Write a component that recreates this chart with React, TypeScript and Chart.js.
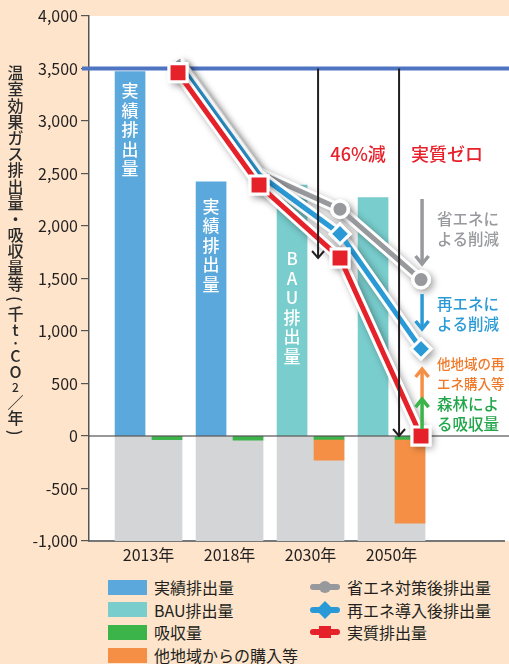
import React, { useEffect, useRef } from 'react';
import { Chart, registerables } from 'chart.js';

Chart.register(...registerables);

// ---------- data ----------
const categories = ['2013年', '2018年', '2030年', '2050年'];
const actualEmissions: (number | null)[] = [3470, 2420, null, null]; // 実績排出量
const bauEmissions: (number | null)[] = [null, null, 2390, 2270]; // BAU排出量
const absorption = [35, 40, 40, 40]; // 吸収量 (plotted negative)
const purchases = [0, 0, 190, 790]; // 他地域からの購入等 (plotted negative)
const energySavingLine = [3460, 2390, 2160, 1490]; // 省エネ対策後排出量
const renewableLine = [3460, 2390, 1925, 830]; // 再エネ導入後排出量
const netEmissionLine = [3460, 2390, 1695, 0]; // 実質排出量
const yMin = -1000;
const yMax = 4000;
const yStep = 500;
const baselineValue = 3500;
const yTitle = '温室効果ガス排出量・吸収量等（千t·CO2／年）';

// ---------- style / layout constants ----------
const FONT = '"Noto Sans CJK JP", "Noto Sans", sans-serif';
const INK = '#231f20';
const PEACH = '#fde4ca';
const COL = {
  actual: '#5ba8dc',
  bau: '#79cdcd',
  absorb: '#3bb44a',
  purchase: '#f58f45',
  under: '#d4d5d7',
  saving: '#98999d',
  renew: '#2a9ad6',
  net: '#e52229',
  baseline: '#4e74c2',
};
const CANVAS_W = 520;
const CANVAS_H = 566;
const X_MIN = -0.735;
const CATEGORY_PX = 81; // width of one category on the x axis
const PAIR_OFFSET = 0.228; // left/right bar offset within a category
const LINE_OFFSET = 0.364; // x offset of line points within a category
const ARROW_OFFSET = 0.093; // black arrow offset
// visual separation of the overlapping lines for 2013/2018 (hidden points)
const SAVING_OVERLAP_SHIFT = 120;
const RENEW_OVERLAP_SHIFT = 100;

const barTexts = [
  { text: '実績排出量', i: 0, start: 3286 },
  { text: '実績排出量', i: 1, start: 2190 },
  { text: 'BAU排出量', i: 2, start: 1686 },
];

const sideNotes = [
  { lines: ['省エネに', 'よる削減'], color: COL.saving, y: [2067, 1876], size: 15.5, weight: 500 },
  { lines: ['再エネに', 'よる削減'], color: COL.renew, y: [1257, 1067], size: 15.5, weight: 500 },
  { lines: ['他地域の再', 'エネ購入等'], color: '#f07a2a', y: [686, 495], size: 13.5, weight: 500 },
  { lines: ['森林によ', 'る吸収量'], color: '#22a64a', y: [305, 114], size: 15.5, weight: 500 },
];
const sideArrows = [
  { from: 2257, to: 1638, color: COL.saving },
  { from: 1352, to: 1019, color: COL.renew },
  { from: 352, to: 638, color: '#f58f45' },
  { from: 67, to: 352, color: '#3bb44a' },
];
const SIDE_ARROW_X = 3.377;
const SIDE_TEXT_X = 3.562;

function drawArrow(ctx: any, x: number, y1: number, y2: number, color: string, lw: number, hw: number, hh: number) {
  const dir = y2 > y1 ? 1 : -1;
  ctx.save();
  ctx.strokeStyle = color;
  ctx.lineWidth = lw;
  ctx.lineCap = 'butt';
  ctx.lineJoin = 'miter';
  ctx.beginPath();
  ctx.moveTo(x, y1);
  ctx.lineTo(x, y2 - dir * lw * 0.5);
  ctx.stroke();
  ctx.beginPath();
  ctx.moveTo(x - hw, y2 - dir * hh);
  ctx.lineTo(x, y2);
  ctx.lineTo(x + hw, y2 - dir * hh);
  ctx.stroke();
  ctx.restore();
}

// vertical (tategaki) axis title, drawn glyph by glyph
function drawVerticalTitle(ctx: any) {
  const x = 15.5;
  let y = 65;
  ctx.save();
  ctx.fillStyle = '#2b2b2b';
  ctx.textAlign = 'center';
  ctx.textBaseline = 'middle';
  Array.from(yTitle).forEach((ch) => {
    let adv = 16.2;
    let size = 16;
    let rotate = false;
    if (ch === '（' || ch === '）') { adv = 14; rotate = true; }
    else if (ch === '·') { adv = 11; }
    else if (ch === 't') { adv = 15; }
    else if (ch === '2') { adv = 14; size = 12; }
    else if (ch === '／') { adv = 15; }
    const cy = y + adv / 2;
    ctx.font = `500 ${size}px ${FONT}`;
    if (rotate) {
      ctx.save();
      ctx.translate(x, cy);
      ctx.rotate(Math.PI / 2);
      ctx.fillText(ch === '（' ? '(' : ')', 0, 0);
      ctx.restore();
    } else {
      ctx.fillText(ch, x, cy);
    }
    y += adv;
  });
  ctx.restore();
}

const decorPlugin = {
  id: 'decor',
  afterLayout(chart: any) {
    // keep a fixed category width in pixels, whatever the final plot width is
    const s = chart.scales.x;
    s.min = X_MIN;
    s.max = X_MIN + (s.right - s.left) / CATEGORY_PX;
    s.configure();
  },
  beforeDraw(chart: any) {
    const { ctx, chartArea } = chart;
    ctx.save();
    ctx.fillStyle = '#ffffff';
    ctx.fillRect(chartArea.left, chartArea.top, chart.width - chartArea.left, chartArea.bottom - chartArea.top);
    ctx.restore();
    drawVerticalTitle(ctx);
  },
  beforeDatasetDraw(chart: any, args: any) {
    const ds = chart.data.datasets[args.index];
    if (ds.shadow) {
      const ctx = chart.ctx;
      ctx.save();
      ctx.shadowColor = 'rgba(0,0,0,0.35)';
      ctx.shadowBlur = 7;
      ctx.shadowOffsetX = 3;
      ctx.shadowOffsetY = 3;
    }
  },
  afterDatasetDraw(chart: any, args: any) {
    const ds = chart.data.datasets[args.index];
    const { ctx, chartArea, scales } = chart;
    if (ds.shadow) ctx.restore();
    if (ds.guidesAfter) {
      const xs = scales.x;
      const ys = scales.y;
      ctx.save();
      ctx.strokeStyle = '#333';
      ctx.lineWidth = 1.2;
      const y0 = ys.getPixelForValue(0);
      ctx.beginPath();
      ctx.moveTo(chartArea.left, y0);
      ctx.lineTo(chart.width, y0);
      ctx.stroke();
      const yb = ys.getPixelForValue(baselineValue);
      ctx.strokeStyle = COL.baseline;
      ctx.lineWidth = 4;
      ctx.beginPath();
      ctx.moveTo(chartArea.left - 7, yb);
      ctx.lineTo(chart.width, yb);
      ctx.stroke();
      ctx.fillStyle = '#ffffff';
      ctx.font = `500 17px ${FONT}`;
      ctx.textAlign = 'center';
      ctx.textBaseline = 'middle';
      barTexts.forEach((b) => {
        const x = xs.getPixelForValue(b.i - PAIR_OFFSET);
        const yS = ys.getPixelForValue(b.start);
        Array.from(b.text).forEach((ch, k) => {
          ctx.fillText(ch, x, yS + k * 19.5);
        });
      });
      ctx.restore();
    }
  },
  afterDatasetsDraw(chart: any) {
    const { ctx, scales } = chart;
    const xs = scales.x;
    const ys = scales.y;
    const yb = ys.getPixelForValue(baselineValue);
    [2, 3].forEach((i) => {
      const x = xs.getPixelForValue(i + ARROW_OFFSET);
      drawArrow(ctx, x, yb, ys.getPixelForValue(netEmissionLine[i]), INK, 2, 6, 7);
    });
    ctx.save();
    ctx.fillStyle = '#e8202a';
    ctx.font = `500 18px ${FONT}`;
    ctx.textAlign = 'center';
    ctx.textBaseline = 'middle';
    const yt = ys.getPixelForValue(2686);
    ctx.fillText('46%減', xs.getPixelForValue(2.587), yt);
    ctx.fillText('実質ゼロ', xs.getPixelForValue(3.685), yt);
    ctx.restore();
    const ax = xs.getPixelForValue(SIDE_ARROW_X);
    sideArrows.forEach((a) => {
      drawArrow(ctx, ax, ys.getPixelForValue(a.from), ys.getPixelForValue(a.to), a.color, 3.5, 6.5, 8);
    });
    ctx.save();
    ctx.textAlign = 'left';
    ctx.textBaseline = 'middle';
    const tx = xs.getPixelForValue(SIDE_TEXT_X);
    sideNotes.forEach((n) => {
      ctx.fillStyle = n.color;
      ctx.font = `${n.weight} ${n.size}px ${FONT}`;
      n.lines.forEach((l, k) => ctx.fillText(l, tx, ys.getPixelForValue(n.y[k])));
    });
    ctx.restore();
  },
};

function lineSets(label: string, values: number[], color: string, style: string, r: number, bw: number, outerR: number, order: number, shift: number) {
  const hidden = (i: number) => shift !== 0 && i < 2;
  const data = values.map((v, i) => ({ x: i + LINE_OFFSET, y: hidden(i) ? v + shift : v }));
  const outline = {
    type: 'line',
    label: label + '-outline',
    data,
    borderColor: '#ffffff',
    borderWidth: 11,
    backgroundColor: '#ffffff',
    pointStyle: style,
    pointRadius: values.map((_, i) => (hidden(i) ? 0 : outerR)),
    pointBorderWidth: 0,
    pointBackgroundColor: '#ffffff',
    tension: 0,
    order: order + 1,
    shadow: true,
    clip: 20,
  };
  const main = {
    type: 'line',
    label,
    data,
    borderColor: color,
    borderWidth: 5,
    backgroundColor: color,
    pointStyle: style,
    pointRadius: values.map((_, i) => (hidden(i) ? 0 : r)),
    pointBorderWidth: bw,
    pointBorderColor: '#ffffff',
    pointBackgroundColor: color,
    tension: 0,
    order,
    clip: 20,
  };
  return [outline, main];
}

function Legend() {
  const left = [
    { label: '実績排出量', color: COL.actual },
    { label: 'BAU排出量', color: COL.bau },
    { label: '吸収量', color: COL.absorb },
    { label: '他地域からの購入等', color: COL.purchase },
  ];
  const right = [
    { label: '省エネ対策後排出量', color: COL.saving, shape: 'circle' },
    { label: '再エネ導入後排出量', color: COL.renew, shape: 'diamond' },
    { label: '実質排出量', color: COL.net, shape: 'square' },
  ];
  const rowTop = (k: number) => 576 + k * 22.7;
  const textStyle: any = { position: 'absolute', fontSize: 16, lineHeight: '22px', color: INK, whiteSpace: 'nowrap', fontFamily: FONT };
  return (
    <>
      {left.map((it, k) => (
        <React.Fragment key={'l' + k}>
          <div style={{ position: 'absolute', left: 108, top: rowTop(k) + 3.5, width: 39, height: 15, background: it.color }} />
          <div style={{ ...textStyle, left: 154, top: rowTop(k) }}>{it.label}</div>
        </React.Fragment>
      ))}
      {right.map((it, k) => (
        <React.Fragment key={'r' + k}>
          <svg style={{ position: 'absolute', left: 308, top: rowTop(k) + 1 }} width={34} height={20}>
            <line x1={5} y1={10} x2={29} y2={10} stroke={it.color} strokeWidth={6} strokeLinecap="round" />
            {it.shape === 'circle' && <circle cx={17} cy={10} r={6} fill={it.color} />}
            {it.shape === 'diamond' && <polygon points="17,1 26,10 17,19 8,10" fill={it.color} />}
            {it.shape === 'square' && <rect x={11} y={4} width={12} height={12} fill={it.color} />}
          </svg>
          <div style={{ ...textStyle, left: 347, top: rowTop(k) }}>{it.label}</div>
        </React.Fragment>
      ))}
    </>
  );
}

export default function App() {
  const ref = useRef<HTMLCanvasElement | null>(null);
  useEffect(() => {
    if (!ref.current) return;
    Chart.defaults.font.family = FONT;
    const barBase = { type: 'bar', grouped: false, borderWidth: 0 };
    const datasets: any[] = [
      {
        ...barBase,
        label: 'under',
        data: categories.map((_, i) => ({ x: i, y: [0, yMin] })),
        backgroundColor: COL.under,
        barThickness: 67,
        order: 20,
      },
      {
        ...barBase,
        label: '実績排出量',
        data: actualEmissions.map((v, i) => (v == null ? null : { x: i - PAIR_OFFSET, y: v })).filter(Boolean),
        backgroundColor: COL.actual,
        barThickness: 30,
        order: 19,
      },
      {
        ...barBase,
        label: 'BAU排出量',
        data: bauEmissions.map((v, i) => (v == null ? null : { x: i - PAIR_OFFSET, y: v })).filter(Boolean),
        backgroundColor: COL.bau,
        barThickness: 30,
        order: 18,
      },
      {
        ...barBase,
        label: '吸収量',
        data: absorption.map((v, i) => ({ x: i + PAIR_OFFSET, y: [0, -v] })),
        backgroundColor: COL.absorb,
        barThickness: 30,
        order: 17,
      },
      {
        ...barBase,
        label: '他地域からの購入等',
        data: purchases
          .map((v, i) => (v > 0 ? { x: i + PAIR_OFFSET, y: [-absorption[i], -absorption[i] - v] } : null))
          .filter(Boolean),
        backgroundColor: COL.purchase,
        barThickness: 30,
        order: 16,
        guidesAfter: true,
      },
      ...lineSets('省エネ対策後排出量', energySavingLine, COL.saving, 'circle', 8.25, 3.5, 10, 8, SAVING_OVERLAP_SHIFT),
      ...lineSets('再エネ導入後排出量', renewableLine, COL.renew, 'rectRot', 10, 3, 12.2, 5, RENEW_OVERLAP_SHIFT),
      ...lineSets('実質排出量', netEmissionLine, COL.net, 'rect', 12.7, 3, 14.8, 2, 0),
    ];
    const chart = new Chart(ref.current, {
      type: 'bar',
      data: { datasets },
      plugins: [decorPlugin],
      options: {
        responsive: false,
        maintainAspectRatio: false,
        animation: false,
        events: [],
        layout: { padding: { top: 16, left: 0, right: 0, bottom: 0 } },
        plugins: { legend: { display: false }, tooltip: { enabled: false } },
        scales: {
          x: {
            type: 'linear',
            min: X_MIN,
            max: X_MIN + 5,
            offset: false,
            afterBuildTicks: (s: any) => {
              s.ticks = categories.map((_, i) => ({ value: i }));
            },
            afterFit: (s: any) => {
              s.height = 25;
            },
            grid: { display: false, drawTicks: false, tickLength: 0 },
            border: { display: true, color: '#777', width: 2 },
            ticks: {
              padding: 4,
              color: INK,
              font: { size: 16, family: FONT },
              autoSkip: false,
              maxRotation: 0,
              callback: (v: any) => categories[v] ?? '',
            },
          },
          y: {
            min: yMin,
            max: yMax,
            afterFit: (s: any) => {
              s.width = 89;
            },
            grid: { display: true, drawOnChartArea: false, drawTicks: true, tickLength: 8, color: '#555', lineWidth: 1.2 },
            border: { display: true, color: '#555', width: 1.5 },
            ticks: {
              stepSize: yStep,
              padding: 3,
              color: INK,
              font: { size: 16, family: FONT },
              callback: (v: any) => Number(v).toLocaleString('en-US'),
            },
          },
        },
      } as any,
    } as any);
    return () => chart.destroy();
  }, []);

  return (
    <div style={{ position: 'fixed', left: 0, top: 0, width: 509, height: 664, background: PEACH, overflow: 'hidden', fontFamily: FONT }}>
      <div style={{ position: 'absolute', left: 0, top: 0, width: CANVAS_W, height: CANVAS_H }}>
        <canvas ref={ref} width={CANVAS_W} height={CANVAS_H} style={{ display: 'block', width: CANVAS_W, height: CANVAS_H }} />
      </div>
      <Legend />
    </div>
  );
}
